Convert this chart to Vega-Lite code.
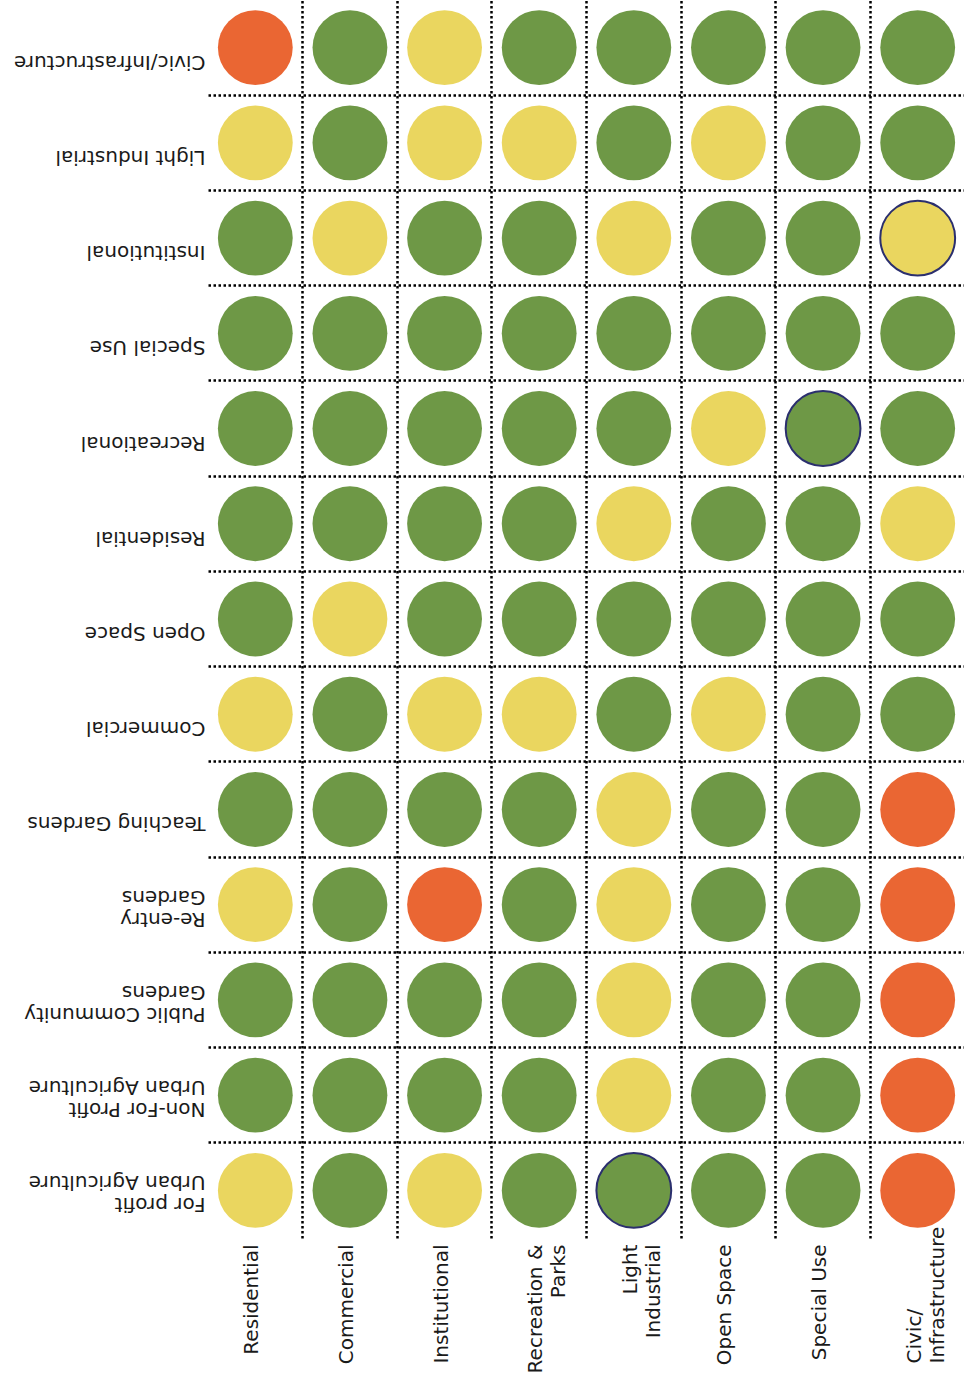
{
  "$schema": "https://vega.github.io/schema/vega-lite/v6.json",
  "width": 757,
  "height": 1238,
  "padding": {"left": 13, "top": 0, "right": 0, "bottom": 0},
  "background": "white",
  "config": {"view": {"stroke": null}},
  "data": {"values": [
    {"row": "Civic/Infrastructure", "col": "Residential", "rating": "Incompatible"},
    {"row": "Civic/Infrastructure", "col": "Commercial", "rating": "Compatible"},
    {"row": "Civic/Infrastructure", "col": "Institutional", "rating": "Conditional"},
    {"row": "Civic/Infrastructure", "col": "Recreation & Parks", "rating": "Compatible"},
    {"row": "Civic/Infrastructure", "col": "Light Industrial", "rating": "Compatible"},
    {"row": "Civic/Infrastructure", "col": "Open Space", "rating": "Compatible"},
    {"row": "Civic/Infrastructure", "col": "Special Use", "rating": "Compatible"},
    {"row": "Civic/Infrastructure", "col": "Civic/Infrastructure", "rating": "Compatible"},
    {"row": "Light Industrial", "col": "Residential", "rating": "Conditional"},
    {"row": "Light Industrial", "col": "Commercial", "rating": "Compatible"},
    {"row": "Light Industrial", "col": "Institutional", "rating": "Conditional"},
    {"row": "Light Industrial", "col": "Recreation & Parks", "rating": "Conditional"},
    {"row": "Light Industrial", "col": "Light Industrial", "rating": "Compatible"},
    {"row": "Light Industrial", "col": "Open Space", "rating": "Conditional"},
    {"row": "Light Industrial", "col": "Special Use", "rating": "Compatible"},
    {"row": "Light Industrial", "col": "Civic/Infrastructure", "rating": "Compatible"},
    {"row": "Institutional", "col": "Residential", "rating": "Compatible"},
    {"row": "Institutional", "col": "Commercial", "rating": "Conditional"},
    {"row": "Institutional", "col": "Institutional", "rating": "Compatible"},
    {"row": "Institutional", "col": "Recreation & Parks", "rating": "Compatible"},
    {"row": "Institutional", "col": "Light Industrial", "rating": "Conditional"},
    {"row": "Institutional", "col": "Open Space", "rating": "Compatible"},
    {"row": "Institutional", "col": "Special Use", "rating": "Compatible"},
    {"row": "Institutional", "col": "Civic/Infrastructure", "rating": "Conditional", "highlight": true},
    {"row": "Special Use", "col": "Residential", "rating": "Compatible"},
    {"row": "Special Use", "col": "Commercial", "rating": "Compatible"},
    {"row": "Special Use", "col": "Institutional", "rating": "Compatible"},
    {"row": "Special Use", "col": "Recreation & Parks", "rating": "Compatible"},
    {"row": "Special Use", "col": "Light Industrial", "rating": "Compatible"},
    {"row": "Special Use", "col": "Open Space", "rating": "Compatible"},
    {"row": "Special Use", "col": "Special Use", "rating": "Compatible"},
    {"row": "Special Use", "col": "Civic/Infrastructure", "rating": "Compatible"},
    {"row": "Recreational", "col": "Residential", "rating": "Compatible"},
    {"row": "Recreational", "col": "Commercial", "rating": "Compatible"},
    {"row": "Recreational", "col": "Institutional", "rating": "Compatible"},
    {"row": "Recreational", "col": "Recreation & Parks", "rating": "Compatible"},
    {"row": "Recreational", "col": "Light Industrial", "rating": "Compatible"},
    {"row": "Recreational", "col": "Open Space", "rating": "Conditional"},
    {"row": "Recreational", "col": "Special Use", "rating": "Compatible", "highlight": true},
    {"row": "Recreational", "col": "Civic/Infrastructure", "rating": "Compatible"},
    {"row": "Residential", "col": "Residential", "rating": "Compatible"},
    {"row": "Residential", "col": "Commercial", "rating": "Compatible"},
    {"row": "Residential", "col": "Institutional", "rating": "Compatible"},
    {"row": "Residential", "col": "Recreation & Parks", "rating": "Compatible"},
    {"row": "Residential", "col": "Light Industrial", "rating": "Conditional"},
    {"row": "Residential", "col": "Open Space", "rating": "Compatible"},
    {"row": "Residential", "col": "Special Use", "rating": "Compatible"},
    {"row": "Residential", "col": "Civic/Infrastructure", "rating": "Conditional"},
    {"row": "Open Space", "col": "Residential", "rating": "Compatible"},
    {"row": "Open Space", "col": "Commercial", "rating": "Conditional"},
    {"row": "Open Space", "col": "Institutional", "rating": "Compatible"},
    {"row": "Open Space", "col": "Recreation & Parks", "rating": "Compatible"},
    {"row": "Open Space", "col": "Light Industrial", "rating": "Compatible"},
    {"row": "Open Space", "col": "Open Space", "rating": "Compatible"},
    {"row": "Open Space", "col": "Special Use", "rating": "Compatible"},
    {"row": "Open Space", "col": "Civic/Infrastructure", "rating": "Compatible"},
    {"row": "Commercial", "col": "Residential", "rating": "Conditional"},
    {"row": "Commercial", "col": "Commercial", "rating": "Compatible"},
    {"row": "Commercial", "col": "Institutional", "rating": "Conditional"},
    {"row": "Commercial", "col": "Recreation & Parks", "rating": "Conditional"},
    {"row": "Commercial", "col": "Light Industrial", "rating": "Compatible"},
    {"row": "Commercial", "col": "Open Space", "rating": "Conditional"},
    {"row": "Commercial", "col": "Special Use", "rating": "Compatible"},
    {"row": "Commercial", "col": "Civic/Infrastructure", "rating": "Compatible"},
    {"row": "Teaching Gardens", "col": "Residential", "rating": "Compatible"},
    {"row": "Teaching Gardens", "col": "Commercial", "rating": "Compatible"},
    {"row": "Teaching Gardens", "col": "Institutional", "rating": "Compatible"},
    {"row": "Teaching Gardens", "col": "Recreation & Parks", "rating": "Compatible"},
    {"row": "Teaching Gardens", "col": "Light Industrial", "rating": "Conditional"},
    {"row": "Teaching Gardens", "col": "Open Space", "rating": "Compatible"},
    {"row": "Teaching Gardens", "col": "Special Use", "rating": "Compatible"},
    {"row": "Teaching Gardens", "col": "Civic/Infrastructure", "rating": "Incompatible"},
    {"row": "Re-entry Gardens", "col": "Residential", "rating": "Conditional"},
    {"row": "Re-entry Gardens", "col": "Commercial", "rating": "Compatible"},
    {"row": "Re-entry Gardens", "col": "Institutional", "rating": "Incompatible"},
    {"row": "Re-entry Gardens", "col": "Recreation & Parks", "rating": "Compatible"},
    {"row": "Re-entry Gardens", "col": "Light Industrial", "rating": "Conditional"},
    {"row": "Re-entry Gardens", "col": "Open Space", "rating": "Compatible"},
    {"row": "Re-entry Gardens", "col": "Special Use", "rating": "Compatible"},
    {"row": "Re-entry Gardens", "col": "Civic/Infrastructure", "rating": "Incompatible"},
    {"row": "Public Community Gardens", "col": "Residential", "rating": "Compatible"},
    {"row": "Public Community Gardens", "col": "Commercial", "rating": "Compatible"},
    {"row": "Public Community Gardens", "col": "Institutional", "rating": "Compatible"},
    {"row": "Public Community Gardens", "col": "Recreation & Parks", "rating": "Compatible"},
    {"row": "Public Community Gardens", "col": "Light Industrial", "rating": "Conditional"},
    {"row": "Public Community Gardens", "col": "Open Space", "rating": "Compatible"},
    {"row": "Public Community Gardens", "col": "Special Use", "rating": "Compatible"},
    {"row": "Public Community Gardens", "col": "Civic/Infrastructure", "rating": "Incompatible"},
    {"row": "Non-For Profit Urban Agriculture", "col": "Residential", "rating": "Compatible"},
    {"row": "Non-For Profit Urban Agriculture", "col": "Commercial", "rating": "Compatible"},
    {"row": "Non-For Profit Urban Agriculture", "col": "Institutional", "rating": "Compatible"},
    {"row": "Non-For Profit Urban Agriculture", "col": "Recreation & Parks", "rating": "Compatible"},
    {"row": "Non-For Profit Urban Agriculture", "col": "Light Industrial", "rating": "Conditional"},
    {"row": "Non-For Profit Urban Agriculture", "col": "Open Space", "rating": "Compatible"},
    {"row": "Non-For Profit Urban Agriculture", "col": "Special Use", "rating": "Compatible"},
    {"row": "Non-For Profit Urban Agriculture", "col": "Civic/Infrastructure", "rating": "Incompatible"},
    {"row": "For profit Urban Agriculture", "col": "Residential", "rating": "Conditional"},
    {"row": "For profit Urban Agriculture", "col": "Commercial", "rating": "Compatible"},
    {"row": "For profit Urban Agriculture", "col": "Institutional", "rating": "Conditional"},
    {"row": "For profit Urban Agriculture", "col": "Recreation & Parks", "rating": "Compatible"},
    {"row": "For profit Urban Agriculture", "col": "Light Industrial", "rating": "Compatible", "highlight": true},
    {"row": "For profit Urban Agriculture", "col": "Open Space", "rating": "Compatible"},
    {"row": "For profit Urban Agriculture", "col": "Special Use", "rating": "Compatible"},
    {"row": "For profit Urban Agriculture", "col": "Civic/Infrastructure", "rating": "Incompatible"}
  ]},
  "mark": {"type": "circle", "opacity": 1, "size": 5600, "strokeWidth": 2},
  "encoding": {
    "x": {
      "field": "col", "type": "nominal",
      "sort": ["Residential", "Commercial", "Institutional", "Recreation & Parks", "Light Industrial", "Open Space", "Special Use", "Civic/Infrastructure"],
      "scale": {"type": "band", "paddingInner": 0, "paddingOuter": 0},
      "axis": {
        "title": null, "orient": "bottom", "domain": false, "ticks": false,
        "grid": true, "bandPosition": 0,
        "gridColor": "#000000", "gridWidth": 2.5, "gridDash": [2.5, 2.5],
        "gridOpacity": {"condition": {"test": "datum.value === 'Residential'", "value": 0}, "value": 1},
        "labelOffset": -3,
        "labelAngle": 270,
        "labelAlign": {"condition": {"test": "datum.value === 'Civic/Infrastructure'", "value": "left"}, "value": "right"},
        "labelPadding": {"condition": {"test": "datum.value === 'Civic/Infrastructure'", "value": 125}, "value": 6},
        "labelBaseline": "middle",
        "labelFont": "DejaVu Sans", "labelFontSize": 20, "labelColor": "#1a1a1a",
        "labelLineHeight": 23, "labelLimit": 400, "labelOverlap": false,
        "labelExpr": "datum.value == 'Recreation & Parks' ? ['Recreation &', 'Parks'] : datum.value == 'Light Industrial' ? ['Light', 'Industrial'] : datum.value == 'Civic/Infrastructure' ? ['Civic/', 'Infrastructure'] : datum.label"
      }
    },
    "y": {
      "field": "row", "type": "nominal",
      "sort": ["Civic/Infrastructure", "Light Industrial", "Institutional", "Special Use", "Recreational", "Residential", "Open Space", "Commercial", "Teaching Gardens", "Re-entry Gardens", "Public Community Gardens", "Non-For Profit Urban Agriculture", "For profit Urban Agriculture"],
      "scale": {"type": "band", "paddingInner": 0, "paddingOuter": 0},
      "axis": {
        "title": null, "orient": "left", "domain": false, "ticks": false,
        "grid": true, "bandPosition": 0,
        "gridColor": "#000000", "gridWidth": 2.5, "gridDash": [2.5, 2.5],
        "gridOpacity": {"condition": {"test": "datum.value === 'Civic/Infrastructure'", "value": 0}, "value": 1},
        "labelAngle": 180, "labelAlign": "left", "labelBaseline": "middle",
        "labelOffset": 14,
        "labelPadding": 3, "labelFont": "DejaVu Sans", "labelFontSize": 20, "labelColor": "#1a1a1a",
        "labelLineHeight": 22, "labelLimit": 400, "labelOverlap": false,
        "labelExpr": "datum.value == 'Re-entry Gardens' ? ['Re-entry', 'Gardens'] : datum.value == 'Public Community Gardens' ? ['Public Community', 'Gardens'] : datum.value == 'Non-For Profit Urban Agriculture' ? ['Non-For Profit', 'Urban Agriculture'] : datum.value == 'For profit Urban Agriculture' ? ['For profit', 'Urban Agriculture'] : datum.label"
      }
    },
    "color": {
      "field": "rating", "type": "nominal", "legend": null,
      "scale": {"domain": ["Compatible", "Conditional", "Incompatible"], "range": ["#6e9846", "#ead65f", "#ea6633"]}
    },
    "stroke": {
      "condition": {"test": "datum.highlight === true", "value": "#2b2f6e"},
      "value": null
    }
  }
}
